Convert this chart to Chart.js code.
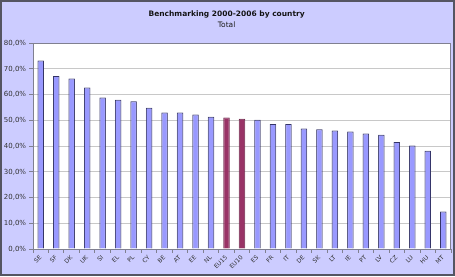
<!DOCTYPE html>
<html>
<head>
<meta charset="utf-8">
<script src="https://cdn.jsdelivr.net/npm/chart.js@4/dist/chart.umd.min.js"></script>
<style>
  html, body { margin: 0; padding: 0; background: #fff; }
  #box { position: absolute; left: 0; top: 0; width: 451px; height: 272px; border: 2px solid #555562; background: #ccccff; }
</style>
</head>
<body>
<div id="box"><canvas id="c" width="451" height="272"></canvas></div>
<script>
// Benchmarking 2000-2006, share in %
var countries = ['SE', 'SF', 'DK', 'UK', 'SI', 'EL', 'PL', 'CY', 'BE', 'AT', 'EE', 'NL', 'EU15', 'EU10',
  'ES', 'FR', 'IT', 'DE', 'SK', 'LT', 'IE', 'PT', 'LV', 'CZ', 'LU', 'HU', 'MT'];
var totals = [73.2, 67.2, 66.2, 62.7, 58.8, 58.0, 57.4, 54.9, 53.0, 53.0, 52.2, 51.4, 51.1, 50.6,
  50.2, 48.5, 48.5, 46.8, 46.5, 46.0, 45.6, 44.9, 44.4, 41.6, 40.2, 38.2, 14.6];
var averages = ['EU15', 'EU10'];

var fills = countries.map(function (c) { return averages.indexOf(c) >= 0 ? '#993366' : '#9999ff'; });
var borders = countries.map(function (c) { return averages.indexOf(c) >= 0 ? '#6a1f45' : '#333366'; });

// white plot area with a grey frame
var plotFrame = {
  id: 'plotFrame',
  beforeDraw: function (chart) {
    var a = chart.chartArea, ctx = chart.ctx;
    ctx.save();
    ctx.fillStyle = '#ffffff';
    ctx.fillRect(a.left, a.top, a.right - a.left, a.bottom - a.top);
    ctx.restore();
  },
  afterDraw: function (chart) {
    var a = chart.chartArea, ctx = chart.ctx;
    ctx.save();
    ctx.strokeStyle = '#808090';
    ctx.lineWidth = 1;
    ctx.strokeRect(a.left + 0.5, a.top + 0.5, a.right - a.left - 1, a.bottom - a.top);
    ctx.restore();
  }
};

Chart.defaults.font.family = '"DejaVu Sans", Verdana, sans-serif';
Chart.defaults.color = '#333333';

new Chart(document.getElementById('c'), {
  type: 'bar',
  data: {
    labels: countries,
    datasets: [{
      data: totals,
      backgroundColor: fills,
      borderColor: borders,
      borderWidth: 1,
      barPercentage: 0.42,
      categoryPercentage: 1
    }]
  },
  options: {
    responsive: false,
    animation: false,
    layout: { padding: { left: 0, right: 2, top: 0, bottom: 0 } },
    plugins: {
      legend: { display: false },
      tooltip: { enabled: false },
      title: {
        display: true,
        text: 'Benchmarking 2000-2006 by country',
        font: { size: 7.5, weight: 'bold' },
        color: '#111111',
        padding: { top: 8, bottom: 0 }
      },
      subtitle: {
        display: true,
        text: 'Total',
        font: { size: 7.5 },
        color: '#222222',
        padding: { top: 1.5, bottom: 13.5 }
      }
    },
    scales: {
      x: {
        offset: true,
        grid: { display: true, drawOnChartArea: false, offset: true, tickLength: 4, color: '#808090' },
        border: { color: '#808090' },
        ticks: { font: { size: 6 }, minRotation: 45, maxRotation: 45, autoSkip: false, padding: 1, color: '#333333' },
        afterFit: function (s) { s.height = 25; }
      },
      y: {
        min: 0,
        max: 80,
        ticks: {
          stepSize: 10,
          font: { size: 7 },
          padding: 3,
          callback: function (v) { return v.toFixed(1).replace('.', ',') + '%'; }
        },
        grid: { color: '#c8c8c8', tickLength: 4, tickColor: '#808090' },
        border: { color: '#808090' },
        afterFit: function (s) { s.width = 31; }
      }
    }
  },
  plugins: [plotFrame]
});
</script>
</body>
</html>
